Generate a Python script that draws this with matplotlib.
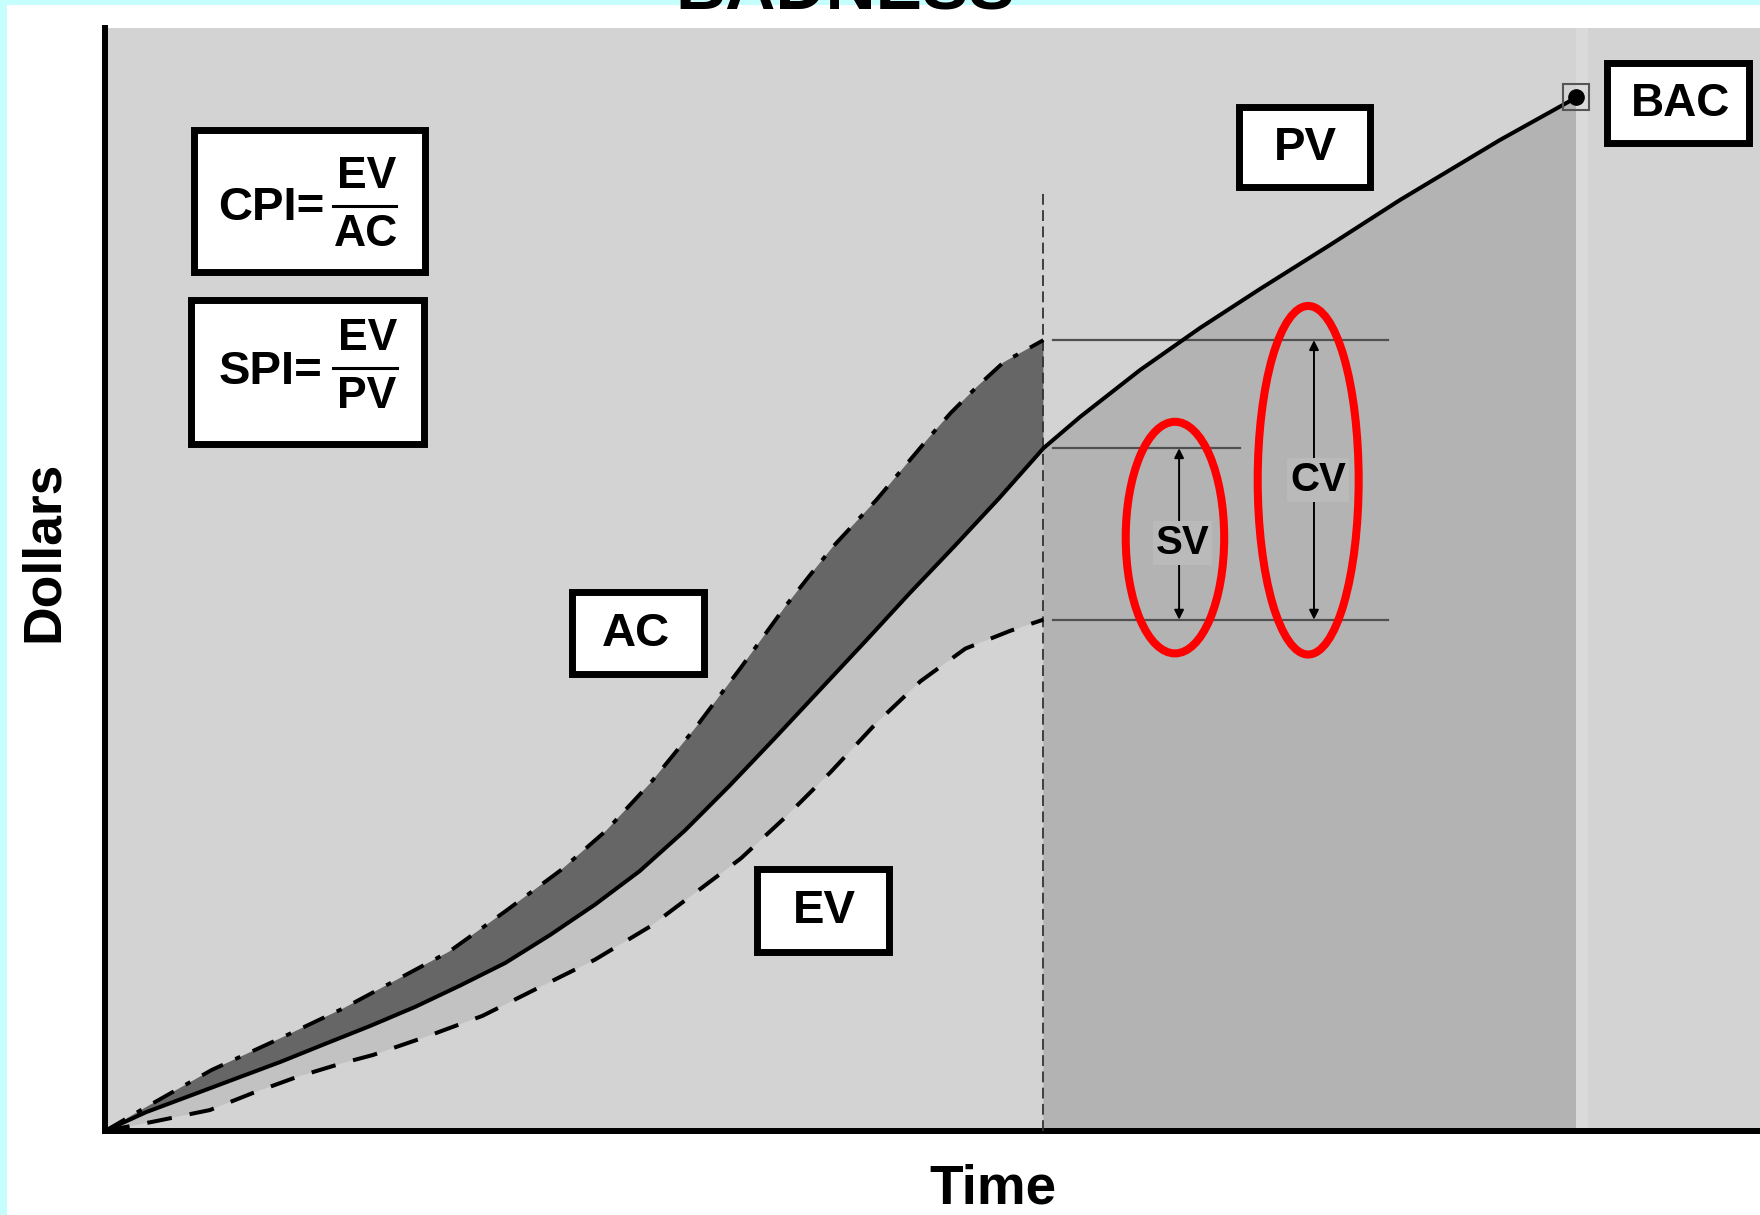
import numpy as np
import matplotlib
matplotlib.use("Agg")
import matplotlib.pyplot as plt
from matplotlib.patches import Rectangle, Ellipse

plt.rcParams['font.family'] = ['Liberation Sans', 'DejaVu Sans']
plt.rcParams['font.weight'] = 'bold'

# time axis and dollars axis both run 0..100
pv_time = [0, 2.47, 5.18, 7.90, 10.61, 13.32, 16.03, 18.75, 21.46, 24.18, 26.89,
           29.60, 32.31, 35.03, 37.74, 40.45, 43.17, 46.02, 48.59, 51.30, 54.02,
           56.7, 58.91, 62.54, 66.16, 69.79, 74.02, 78.25, 84.29, 88.9]
pv_value = [0, 1.70, 3.22, 4.75, 6.27, 7.91, 9.53, 11.26, 13.19, 15.23, 17.77,
            20.52, 23.57, 27.23, 31.31, 35.58, 39.95, 44.52, 48.71, 52.98, 57.36,
            61.9, 64.73, 68.99, 72.80, 76.34, 80.33, 84.41, 89.85, 93.7]

ac_time = [0, 2.52, 6.44, 10.37, 14.40, 20.78, 24.18, 27.56, 30.28, 32.99, 35.70,
           38.41, 41.12, 42.6, 44.0, 46.6, 49.8, 51.1, 52.7, 54.3, 56.7]
ac_value = [0, 2.20, 5.53, 8.25, 11.12, 16.25, 19.91, 23.67, 27.23, 31.61, 36.60,
            41.99, 47.59, 50.4, 53.0, 57.2, 62.9, 65.1, 67.5, 69.7, 71.7]

ev_time = [0, 3.1, 6.34, 8.94, 11.60, 14.38, 16.19, 19.5, 22.81, 26.21, 29.60,
           32.99, 35.70, 38.41, 41.12, 43.84, 46.56, 49.27, 51.98, 54.70, 56.7]
ev_value = [0, 0.9, 1.90, 3.45, 4.90, 6.17, 6.89, 8.6, 10.44, 13.00, 15.53,
            18.59, 21.64, 24.70, 28.46, 32.53, 36.91, 40.77, 43.73, 45.35, 46.36]

status_time = 56.7
bac_time = 88.9
bac_value = 93.7

pv_t = np.array(pv_time)
pv_v = np.array(pv_value)
ac_t = np.array(ac_time)
ac_v = np.array(ac_value)
ev_t = np.array(ev_time)
ev_v = np.array(ev_value)

ac_now = ac_v[-1]
ev_now = ev_v[-1]
pv_now = pv_v[pv_t == status_time][0]

fig = plt.figure(figsize=(17.6, 12.15), dpi=100)
fig.patch.set_facecolor('white')

ax = fig.add_axes([105 / 1760, 84 / 1215, 1655 / 1760, 1103 / 1215])
ax.set_facecolor('#d3d3d3')
ax.set_xlim(0, 100)
ax.set_ylim(0, 100)
ax.set_xticks([])
ax.set_yticks([])
for s in ['top', 'right']:
    ax.spines[s].set_visible(False)
for s in ['left', 'bottom']:
    ax.spines[s].set_linewidth(4.3)
    ax.spines[s].set_color('black')

past = pv_t <= status_time
future = pv_t >= status_time

# shaded areas
ax.fill(np.concatenate([ac_t, pv_t[past][::-1]]),
        np.concatenate([ac_v, pv_v[past][::-1]]), color='#666666', lw=0, zorder=1)
ax.fill(np.concatenate([pv_t[past], ev_t[::-1]]),
        np.concatenate([pv_v[past], ev_v[::-1]]), color='#c2c2c2', lw=0, zorder=1)
ax.fill(np.concatenate([pv_t[future], [bac_time, status_time]]),
        np.concatenate([pv_v[future], [0, 0]]), color='#b3b3b3', lw=0, zorder=1)
ax.axvspan(bac_time, bac_time + 0.7, color='#dadada', lw=0, zorder=1)

# curves
ax.plot(pv_t, pv_v, color='black', lw=2.9, zorder=4, solid_joinstyle='round')
ax.plot(ac_t, ac_v, color='black', lw=2.8, zorder=4,
        linestyle=(0, (6, 3.5, 1.4, 3.5)))
ax.plot(ev_t, ev_v, color='black', lw=2.9, zorder=4, linestyle=(0, (6.2, 4.5)))

# status date
ax.plot([status_time, status_time], [0, 85.0], color='#333333', lw=1.3,
        linestyle=(0, (6, 3)), zorder=3)

# reference lines
ax.plot([status_time + 0.6, 77.5], [ac_now, ac_now], color='#505050', lw=1.6, zorder=3)
ax.plot([status_time + 0.6, 68.6], [pv_now, pv_now], color='#505050', lw=1.6, zorder=3)
ax.plot([status_time + 0.6, 77.5], [ev_now, ev_now], color='#505050', lw=1.6, zorder=3)

# variance arrows
arrow_kw = dict(arrowstyle='<|-|>', color='black', lw=1.4, mutation_scale=14,
                shrinkA=0, shrinkB=0)
ax.annotate('', xy=(64.9, pv_now), xytext=(64.9, ev_now), arrowprops=arrow_kw, zorder=5)
ax.annotate('', xy=(73.05, ac_now), xytext=(73.05, ev_now), arrowprops=arrow_kw, zorder=5)
ax.text(65.1, 53.3, 'SV', fontsize=29, ha='center', va='center', zorder=6,
        bbox=dict(facecolor='#bababa', edgecolor='none', pad=2))
ax.text(73.3, 59.0, 'CV', fontsize=29, ha='center', va='center', zorder=6,
        bbox=dict(facecolor='#bababa', edgecolor='none', pad=2))

ax.add_patch(Ellipse((64.65, 53.8), 5.95, 21.0, fill=False, edgecolor='#ff0000',
                     lw=5.8, zorder=7))
ax.add_patch(Ellipse((72.7, 59.0), 6.1, 31.6, fill=False, edgecolor='#ff0000',
                     lw=5.8, zorder=7))

# budget at completion point
ax.plot(bac_time, bac_value, marker='s', ms=19, mfc='none', mec='#555555', mew=1.5,
        zorder=5, clip_on=False)
ax.plot(bac_time, bac_value, marker='o', ms=11, color='black', zorder=6)

# overlay in pixel coordinates for frames and labels
ov = fig.add_axes([0, 0, 1, 1], zorder=10)
ov.set_xlim(0, 1760)
ov.set_ylim(1215, 0)
ov.axis('off')
ov.patch.set_visible(False)

ov.add_patch(Rectangle((0, 0), 1760, 5, color='#c6fdfd', lw=0))
ov.add_patch(Rectangle((0, 0), 7, 1215, color='#c6fdfd', lw=0))
ov.text(845, 9, 'BADNESS', fontsize=50, ha='center', va='baseline', zorder=12)

ov.text(44, 551, 'Dollars', fontsize=38.5, rotation=90, ha='center', va='center')
ov.text(993, 1204, 'Time', fontsize=39.5, ha='center', va='baseline')


def frame(x0, y0, x1, y1):
    ov.add_patch(Rectangle((x0 + 3.5, y0 + 3.5), x1 - x0 - 7, y1 - y0 - 7,
                           facecolor='white', edgecolor='black', lw=5,
                           joinstyle='miter'))


frame(568, 588, 707, 677)
ov.text(636, 634, 'AC', fontsize=34, ha='center', va='center')
frame(753, 865, 892, 955)
ov.text(824, 911, 'EV', fontsize=34, ha='center', va='center')
frame(1235, 103, 1373, 190)
ov.text(1305, 148, 'PV', fontsize=34, ha='center', va='center')
frame(1603, 59, 1752, 146)
ov.text(1680, 104, 'BAC', fontsize=33, ha='center', va='center')

frame(190, 126, 428, 275)
ov.text(271, 208, 'CPI=', fontsize=34, ha='center', va='center')
ov.text(367, 177, 'EV', fontsize=32, ha='center', va='center')
ov.plot([333, 396], [206, 206], color='black', lw=2.2)
ov.text(366, 234, 'AC', fontsize=32, ha='center', va='center')

frame(187, 296, 427, 447)
ov.text(271, 372, 'SPI=', fontsize=34, ha='center', va='center')
ov.text(368, 338, 'EV', fontsize=32, ha='center', va='center')
ov.plot([333, 397], [368, 368], color='black', lw=2.2)
ov.text(367, 396, 'PV', fontsize=32, ha='center', va='center')

fig.savefig('out.png', dpi=100, facecolor='white')
